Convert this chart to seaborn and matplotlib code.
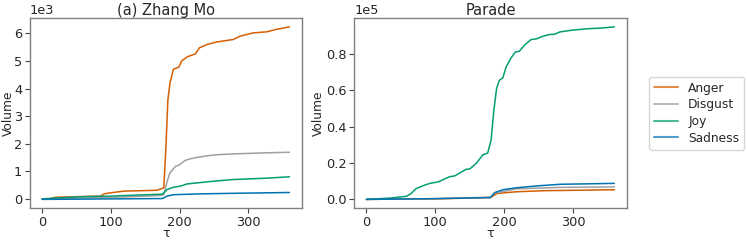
import pandas as pd
import numpy as np
import matplotlib
matplotlib.use("Agg")
import matplotlib.pyplot as plt
import seaborn as sns

emotions = ["Anger", "Disgust", "Joy", "Sadness"]
colors = {"Anger": "#d55e00", "Disgust": "#a0a0a0", "Joy": "#029e73", "Sadness": "#0173b2"}

# (a) Zhang Mo, volume in thousands (x1e3)
zm_anger_t = [0, 10, 20, 85, 90, 100, 119, 167, 177, 180, 183, 186, 191, 199, 203, 211, 223, 229, 240, 254, 278, 288, 307, 327, 341, 360]
zm_anger_v = [0.0, 0.0, 0.06, 0.1, 0.18, 0.22, 0.28, 0.31, 0.4, 1.8, 3.6, 4.2, 4.7, 4.78, 5.0, 5.15, 5.26, 5.48, 5.6, 5.69, 5.78, 5.9, 6.02, 6.06, 6.15, 6.24]
zm_disgust_t = [0, 100, 170, 177, 182, 186, 194, 199, 208, 215, 225, 240, 254, 278, 327, 360]
zm_disgust_v = [0.0, 0.05, 0.12, 0.15, 0.64, 0.94, 1.18, 1.22, 1.39, 1.45, 1.5, 1.56, 1.6, 1.63, 1.67, 1.69]
zm_joy_t = [0, 50, 100, 175, 182, 191, 201, 211, 230, 254, 278, 327, 360]
zm_joy_v = [0.0, 0.07, 0.1, 0.17, 0.34, 0.42, 0.46, 0.54, 0.59, 0.65, 0.7, 0.75, 0.8]
zm_sad_t = [0, 175, 182, 191, 230, 278, 360]
zm_sad_v = [-0.02, 0.01, 0.1, 0.15, 0.18, 0.2, 0.23]

# Parade, volume in units of 1e5
pa_anger_t = [0, 100, 180, 190, 218, 260, 360]
pa_anger_v = [0.0, 0.003, 0.01, 0.033, 0.042, 0.048, 0.053]
pa_disgust_t = [0, 100, 180, 186, 218, 280, 360]
pa_disgust_v = [0.0, 0.004, 0.012, 0.034, 0.058, 0.066, 0.069]
pa_joy_t = [0, 34, 58, 65, 72, 82, 92, 104, 121, 128, 145, 150, 160, 169, 176, 181, 185, 189, 193, 198, 203, 210, 216, 222, 230, 239, 247, 256, 266, 273, 281, 295, 319, 343, 360]
pa_joy_v = [0.0, 0.007, 0.017, 0.033, 0.059, 0.075, 0.088, 0.096, 0.125, 0.129, 0.166, 0.167, 0.2, 0.245, 0.254, 0.327, 0.49, 0.61, 0.655, 0.668, 0.73, 0.778, 0.81, 0.815, 0.85, 0.879, 0.883, 0.897, 0.907, 0.908, 0.921, 0.929, 0.938, 0.943, 0.949]
pa_sad_t = [0, 100, 180, 186, 198, 218, 247, 281, 360]
pa_sad_v = [0.0, 0.004, 0.01, 0.037, 0.053, 0.064, 0.074, 0.083, 0.088]


def long_df(series, scale):
    rows = []
    for emo, (t, v) in zip(emotions, series):
        for a, b in zip(t, v):
            rows.append({"tau": a, "volume": b * scale, "emotion": emo})
    return pd.DataFrame(rows)


zm = long_df([(zm_anger_t, zm_anger_v), (zm_disgust_t, zm_disgust_v),
              (zm_joy_t, zm_joy_v), (zm_sad_t, zm_sad_v)], 1e3)
pa = long_df([(pa_anger_t, pa_anger_v), (pa_disgust_t, pa_disgust_v),
              (pa_joy_t, pa_joy_v), (pa_sad_t, pa_sad_v)], 1e5)

sns.set_style("ticks")
plt.rcParams["font.family"] = ["DejaVu Sans"]
fs = 9.3

fig = plt.figure(figsize=(7.47, 2.43), dpi=100)
ax1 = fig.add_axes([0.040, 0.144, 0.364, 0.781])
ax2 = fig.add_axes([0.474, 0.144, 0.365, 0.781])

for ax, df, title, p, lx in [(ax1, zm, "(a) Zhang Mo", 3, -0.055),
                             (ax2, pa, "Parade", 5, -0.108)]:
    sns.lineplot(data=df, x="tau", y="volume", hue="emotion", hue_order=emotions,
                 palette=colors, linewidth=1.1, ax=ax, legend=(ax is ax2))
    ax.set_title(title, fontsize=10.5, pad=2)
    ax.set_xlabel("τ", fontsize=fs, labelpad=-1)
    ax.set_ylabel("Volume", fontsize=8.8)
    ax.yaxis.set_label_coords(lx, 0.5)
    ax.set_xticks([0, 100, 200, 300])
    ax.ticklabel_format(axis="y", style="sci", scilimits=(p, p))
    ax.tick_params(labelsize=fs, length=3.5, width=0.8, color="#444444", pad=2)
    ax.yaxis.get_offset_text().set_fontsize(fs)
    for s in ax.spines.values():
        s.set_visible(True)
        s.set_color("#808080")
        s.set_linewidth(1.0)

leg = ax2.legend(loc="center left", bbox_to_anchor=(1.082, 0.5), borderaxespad=0,
                 frameon=True, fontsize=8.8, handlelength=2.0, labelspacing=0.3)
for h in leg.get_lines():
    h.set_alpha(0.7)
    h.set_linewidth(1.5)

fig.savefig("out.png", dpi=100)
